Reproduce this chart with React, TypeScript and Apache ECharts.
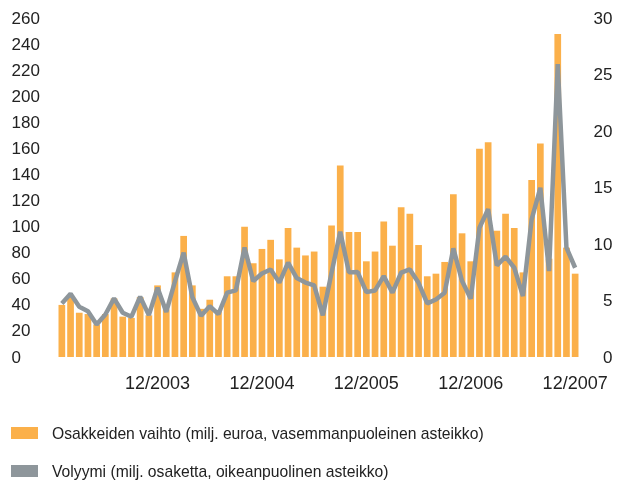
import React, { useEffect, useRef } from "react";
import * as echarts from "echarts";

const years = [2003, 2004, 2005, 2006, 2007];
const months = years.flatMap((y) => Array.from({ length: 12 }, (_, i) => `${i + 1}/${y}`));

const turnover = [
  40, 46, 34, 33, 25, 33, 45, 31, 30, 46, 32, 55,
  36.5, 65, 93, 55, 37, 44, 35, 62, 62, 100, 72, 83,
  90, 75, 99, 84, 78, 81, 54, 101, 147, 96, 96, 73.5,
  81, 104, 85.5, 115, 110, 86, 62, 64, 73, 125, 95, 73.5,
  160, 165, 97, 110, 99, 65, 136, 164, 75.5, 248, 84, 64,
];

const volume = [
  4.75, 5.6, 4.45, 4.06, 2.88, 3.77, 5.19, 3.92, 3.57, 5.34, 3.71, 6.14,
  4.0, 6.7, 9.25, 5.3, 3.65, 4.5, 3.8, 5.7, 5.9, 9.7, 6.73, 7.4,
  7.75, 6.6, 8.36, 7.0, 6.6, 6.35, 3.7, 7.47, 11.1, 7.5, 7.53, 5.75,
  5.9, 7.17, 5.7, 7.47, 7.76, 6.58, 4.75, 5.1, 5.7, 9.63, 6.73, 5.16,
  11.46, 13.1, 8.12, 8.89, 7.91, 5.4, 12.2, 15.0, 7.61, 25.95, 9.69, 7.91,
];

const barName = "Osakkeiden vaihto (milj. euroa, vasemmanpuoleinen asteikko)";
const lineName = "Volyymi (milj. osaketta, oikeanpuolinen asteikko)";

const FONT = "'Liberation Sans', Arial, sans-serif";

const legendBase = {
  orient: "horizontal",
  left: 11,
  padding: 0,
  itemWidth: 27,
  itemHeight: 12,
  textStyle: { fontSize: 15.7, color: "#222", fontFamily: FONT, padding: [0, 0, 0, 9] },
};

export default function App() {
  const ref = useRef<HTMLDivElement>(null);
  useEffect(() => {
    if (!ref.current) return;
    const chart = echarts.init(ref.current, null, { renderer: "svg" });
    chart.setOption({
      animation: false,
      textStyle: { fontFamily: FONT },
      grid: { left: 57.5, right: 44.5, top: 18.5, bottom: 124 },
      legend: [
        { ...legendBase, top: 425, data: [{ name: barName, icon: "rect" }] },
        { ...legendBase, top: 463, data: [{ name: lineName, icon: "rect" }] },
      ],
      xAxis: {
        type: "category",
        data: months,
        axisLine: { show: false },
        axisTick: { show: false },
        axisLabel: {
          interval: (i: number, v: string) => v.startsWith("12/"),
          color: "#222",
          fontSize: 18,
          margin: 17,
          fontFamily: FONT,
        },
      },
      yAxis: [
        {
          type: "value",
          min: 0,
          max: 260,
          interval: 20,
          splitLine: { show: false },
          axisLine: { show: false },
          axisTick: { show: false },
          axisLabel: { align: "left", margin: 46, color: "#222", fontSize: 17, fontFamily: FONT },
        },
        {
          type: "value",
          min: 0,
          max: 30,
          interval: 5,
          splitLine: { show: false },
          axisLine: { show: false },
          axisTick: { show: false },
          axisLabel: { align: "right", margin: 33, color: "#222", fontSize: 17, fontFamily: FONT },
        },
      ],
      series: [
        {
          name: barName,
          type: "bar",
          data: turnover,
          yAxisIndex: 0,
          barCategoryGap: "23%",
          itemStyle: { color: "#fbb04a" },
        },
        {
          name: lineName,
          type: "line",
          data: volume,
          yAxisIndex: 1,
          symbol: "none",
          lineStyle: { color: "#8e969b", width: 4.5 },
          itemStyle: { color: "#8e969b" },
        },
      ],
    });
    return () => chart.dispose();
  }, []);
  return (
    <div
      ref={ref}
      style={{ position: "fixed", left: 0, top: 0, width: 624, height: 481 }}
    />
  );
}
